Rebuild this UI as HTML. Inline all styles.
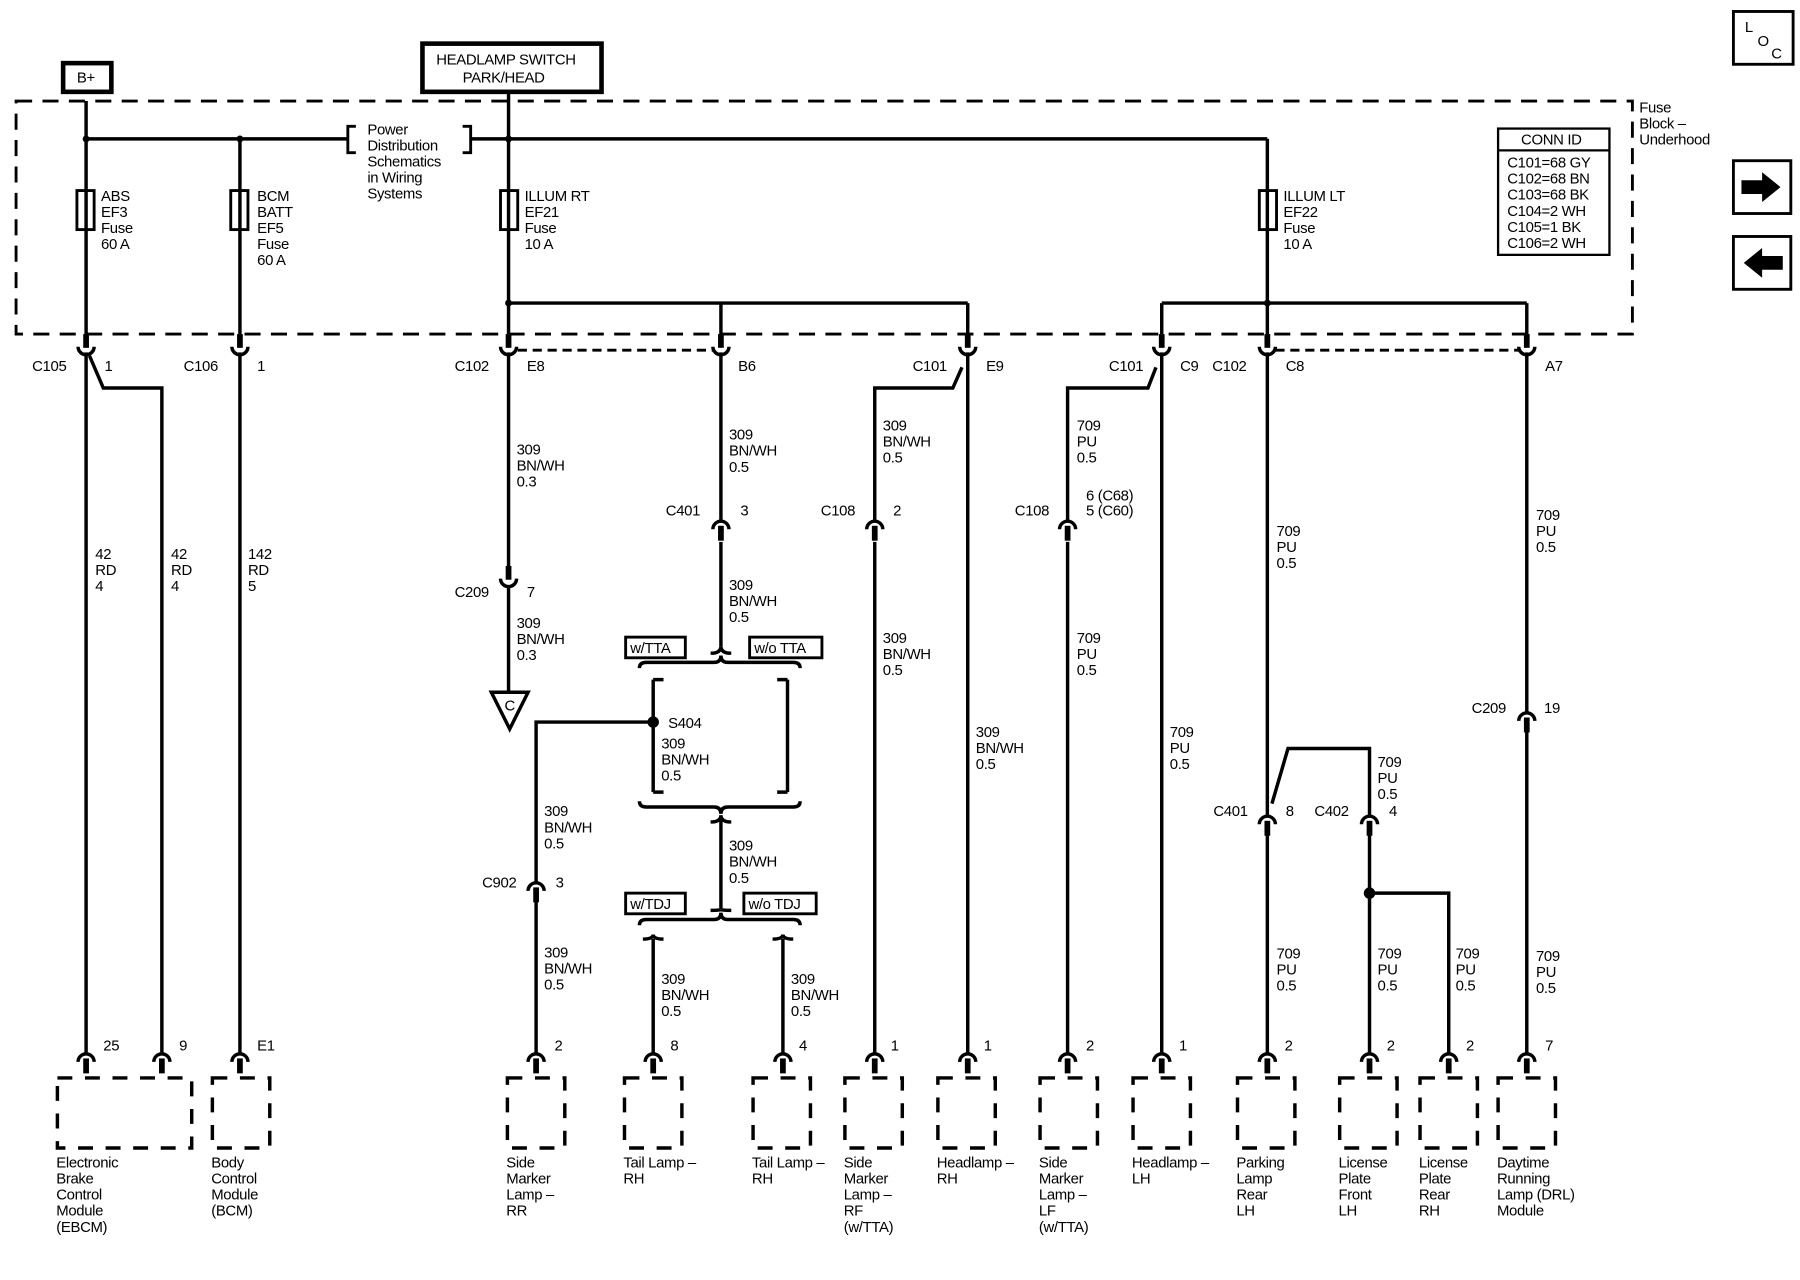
<!DOCTYPE html>
<html><head><meta charset="utf-8"><style>
html,body{margin:0;padding:0;background:#fff;}
svg{display:block;}
text{font-family:"Liberation Sans",sans-serif;font-size:13px;fill:#000;letter-spacing:-0.3px;}
</style></head><body>
<svg width="1800" height="1280" viewBox="0 0 1568 1115" preserveAspectRatio="none" xmlns="http://www.w3.org/2000/svg">
<defs>
<g id="cd"><rect x="-2.5" y="-12" width="5" height="12"/><path d="M-7,-1 A7,7 0 0 0 7,-1" fill="none" stroke="#000" stroke-width="3"/></g>
<g id="cu"><path d="M-7,7 A7,7 0 0 1 7,7" fill="none" stroke="#000" stroke-width="3"/><rect x="-2.5" y="4" width="5" height="13"/></g>
</defs>
<rect width="1568" height="1115" fill="#fff"/>
<g fill="none" stroke="#000">
<rect x="14" y="88" width="1408" height="203" stroke-width="2.5" stroke-dasharray="14 9"/>
<rect x="55" y="55" width="42" height="25" stroke-width="4"/>
<rect x="368" y="38" width="156" height="42" stroke-width="4"/>
<rect x="1305" y="112" width="97" height="110" stroke-width="2"/>
<line x1="1305" y1="131" x2="1402" y2="131" stroke-width="2"/>
<rect x="1510" y="10" width="52" height="46" stroke-width="2.5"/>
<rect x="1510" y="140" width="50" height="46" stroke-width="2.5"/>
<rect x="1510" y="206" width="50" height="46" stroke-width="2.5"/>
<g stroke-width="3">
<path d="M75,121 H303 M410,121 H1104"/>
<path d="M310,110 h-7 v23 h7 M403,110 h7 v23 h-7" stroke-width="2.5"/>
<path d="M75,88 V291 M209,121 V291 M443,80 V291 M1104,121 V291"/>
<path d="M443,264 H843 M628,264 V291 M843,264 V291 M1012,264 H1330 M1012,264 V291 M1330,264 V291"/>
</g>
<g stroke-width="2.5">
<rect x="67" y="166" width="15" height="34"/><rect x="201" y="166" width="15" height="34"/>
<rect x="436" y="166" width="15" height="34"/><rect x="1097" y="166" width="15" height="34"/>
</g>
<path d="M451,305 H622 M1111,305 H1323" stroke-width="2.5" stroke-dasharray="8 5"/>
<g stroke-width="3">
<path d="M75,307 V918 M78,310 L90,338 H141 V918"/>
<path d="M209,307 V918"/>
<path d="M443,307 V497 M443,511 V603"/>
<path d="M628,307 V455 M628,472 V563"/>
<path d="M843,307 V918 M838,320 L830,338 H762 V455 M762,472 V918"/>
<path d="M1012,307 V918 M1007,320 L1000,338 H930 V455 M930,472 V918"/>
<path d="M1104,307 V710 M1108,700 L1122,652 H1193 V710 M1104,727 V918 M1193,727 V918 M1193,778 H1262 V918"/>
<path d="M1330,307 V620 M1330,637 V918"/>
<path d="M569,592 V690 M686,592 V690 M578,592 h-9 M578,690 h-9 M677,592 h9 M677,690 h9"/>
<path d="M569,629 H467 V768 M467,785 V918"/>
<path d="M557,582 q0,-5 6,-5 L622,577 q6,0 6,-6 q0,6 6,6 L691,577 q6,0 6,5"/>
<path d="M619,569 q9,0 9,-6 q0,6 9,6"/>
<path d="M557,698 q0,5 6,5 L622,703 q6,0 6,6 q0,-6 6,-6 L691,703 q6,0 6,-5"/>
<path d="M619,716 q9,0 9,-6 q0,6 9,6 M628,712 V792"/>
<path d="M619,793 q9,0 9,-1 q0,1 9,1"/>
<path d="M557,806 q0,-5 6,-5 L622,801 q6,0 6,-6 q0,6 6,6 L691,801 q6,0 6,5"/>
<path d="M560,818 q9,0 9,-4 q0,4 9,4 M569,818 V918 M673,818 q9,0 9,-4 q0,4 9,4 M682,818 V918"/>
</g>
<polygon points="428,603 460,603 444,635" stroke-width="3"/>
<g stroke-width="3" stroke-dasharray="13 11">
<rect x="50" y="939" width="117" height="61"/><rect x="185" y="939" width="50" height="61"/>
<rect x="442" y="939" width="50" height="61"/><rect x="544" y="939" width="50" height="61"/>
<rect x="656" y="939" width="50" height="61"/><rect x="736" y="939" width="50" height="61"/>
<rect x="817" y="939" width="50" height="61"/><rect x="906" y="939" width="50" height="61"/>
<rect x="987" y="939" width="50" height="61"/><rect x="1078" y="939" width="50" height="61"/>
<rect x="1167" y="939" width="50" height="61"/><rect x="1237" y="939" width="50" height="61"/>
<rect x="1305" y="939" width="50" height="61"/>
</g>
<g stroke-width="2.5">
<rect x="545" y="555" width="52" height="18"/><rect x="653" y="555" width="63" height="18"/>
<rect x="545" y="778" width="52" height="18"/><rect x="648" y="778" width="63" height="18"/>
</g>
</g>
<g fill="#000">
<circle cx="75" cy="121" r="3"/><circle cx="209" cy="121" r="3"/><circle cx="443" cy="121" r="3"/>
<circle cx="443" cy="264" r="3"/><circle cx="1104" cy="264" r="3"/>
<circle cx="569" cy="629" r="5"/><circle cx="1193" cy="778" r="5"/>
<polygon points="1517,157 1535,157 1535,150 1551,163 1535,176 1535,169 1517,169"/>
<polygon points="1553,223 1535,223 1535,216 1519,229 1535,242 1535,235 1553,235"/>
</g>
<g>
<use href="#cd" x="75" y="303"/><use href="#cd" x="209" y="303"/><use href="#cd" x="443" y="303"/>
<use href="#cd" x="628" y="303"/><use href="#cd" x="843" y="303"/><use href="#cd" x="1012" y="303"/>
<use href="#cd" x="1104" y="303"/><use href="#cd" x="1330" y="303"/>
<use href="#cd" x="443" y="505"/>
<use href="#cu" x="628" y="454"/><use href="#cu" x="762" y="454"/><use href="#cu" x="930" y="454"/>
<use href="#cu" x="1330" y="621"/><use href="#cu" x="1104" y="711"/><use href="#cu" x="1193" y="711"/>
<use href="#cu" x="467" y="769"/>
<use href="#cu" x="75" y="918"/><use href="#cu" x="141" y="918"/><use href="#cu" x="209" y="918"/>
<use href="#cu" x="467" y="918"/><use href="#cu" x="569" y="918"/><use href="#cu" x="682" y="918"/>
<use href="#cu" x="762" y="918"/><use href="#cu" x="843" y="918"/><use href="#cu" x="930" y="918"/>
<use href="#cu" x="1012" y="918"/><use href="#cu" x="1104" y="918"/><use href="#cu" x="1193" y="918"/>
<use href="#cu" x="1262" y="918"/><use href="#cu" x="1330" y="918"/>
</g>
<g>
<text x="67" y="72">B+</text>
<text x="380" y="56">HEADLAMP SWITCH</text><text x="403" y="72">PARK/HEAD</text>
<text x="444" y="619" font-size="12" text-anchor="middle">C</text>
<text x="1325" y="126">CONN ID</text>
<text x="1313" y="146">C101=68 GY</text><text x="1313" y="160">C102=68 BN</text><text x="1313" y="174">C103=68 BK</text>
<text x="1313" y="188">C104=2 WH</text><text x="1313" y="202">C105=1 BK</text><text x="1313" y="216">C106=2 WH</text>
<text x="1520" y="28">L</text><text x="1531" y="40">O</text><text x="1543" y="51">C</text>
<text x="1428" y="98">Fuse</text><text x="1428" y="112">Block –</text><text x="1428" y="126">Underhood</text>
<text x="320" y="117">Power</text><text x="320" y="131">Distribution</text><text x="320" y="145">Schematics</text><text x="320" y="159">in Wiring</text><text x="320" y="173">Systems</text>
<text x="88" y="175">ABS</text><text x="88" y="189">EF3</text><text x="88" y="203">Fuse</text><text x="88" y="217">60 A</text>
<text x="224" y="175">BCM</text><text x="224" y="189">BATT</text><text x="224" y="203">EF5</text><text x="224" y="217">Fuse</text><text x="224" y="231">60 A</text>
<text x="457" y="175">ILLUM RT</text><text x="457" y="189">EF21</text><text x="457" y="203">Fuse</text><text x="457" y="217">10 A</text>
<text x="1118" y="175">ILLUM LT</text><text x="1118" y="189">EF22</text><text x="1118" y="203">Fuse</text><text x="1118" y="217">10 A</text>
<text x="28" y="323">C105</text><text x="91" y="323">1</text>
<text x="160" y="323">C106</text><text x="224" y="323">1</text>
<text x="396" y="323">C102</text><text x="459" y="323">E8</text><text x="643" y="323">B6</text>
<text x="795" y="323">C101</text><text x="859" y="323">E9</text>
<text x="966" y="323">C101</text><text x="1028" y="323">C9</text>
<text x="1056" y="323">C102</text><text x="1120" y="323">C8</text><text x="1346" y="323">A7</text>
<text x="83" y="487">42</text><text x="83" y="501">RD</text><text x="83" y="515">4</text>
<text x="149" y="487">42</text><text x="149" y="501">RD</text><text x="149" y="515">4</text>
<text x="216" y="487">142</text><text x="216" y="501">RD</text><text x="216" y="515">5</text>
<text x="450" y="396">309</text><text x="450" y="410">BN/WH</text><text x="450" y="424">0.3</text>
<text x="635" y="383">309</text><text x="635" y="397">BN/WH</text><text x="635" y="411">0.5</text>
<text x="769" y="375">309</text><text x="769" y="389">BN/WH</text><text x="769" y="403">0.5</text>
<text x="938" y="375">709</text><text x="938" y="389">PU</text><text x="938" y="403">0.5</text>
<text x="580" y="449">C401</text><text x="645" y="449">3</text>
<text x="715" y="449">C108</text><text x="778" y="449">2</text>
<text x="884" y="449">C108</text><text x="946" y="436">6 (C68)</text><text x="946" y="449">5 (C60)</text>
<text x="1112" y="467">709</text><text x="1112" y="481">PU</text><text x="1112" y="495">0.5</text>
<text x="1338" y="453">709</text><text x="1338" y="467">PU</text><text x="1338" y="481">0.5</text>
<text x="396" y="520">C209</text><text x="459" y="520">7</text>
<text x="450" y="547">309</text><text x="450" y="561">BN/WH</text><text x="450" y="575">0.3</text>
<text x="635" y="514">309</text><text x="635" y="528">BN/WH</text><text x="635" y="542">0.5</text>
<text x="549" y="569">w/TTA</text><text x="657" y="569">w/o TTA</text>
<text x="769" y="560">309</text><text x="769" y="574">BN/WH</text><text x="769" y="588">0.5</text>
<text x="938" y="560">709</text><text x="938" y="574">PU</text><text x="938" y="588">0.5</text>
<text x="582" y="634">S404</text>
<text x="576" y="652">309</text><text x="576" y="666">BN/WH</text><text x="576" y="680">0.5</text>
<text x="850" y="642">309</text><text x="850" y="656">BN/WH</text><text x="850" y="670">0.5</text>
<text x="1019" y="642">709</text><text x="1019" y="656">PU</text><text x="1019" y="670">0.5</text>
<text x="1282" y="621">C209</text><text x="1345" y="621">19</text>
<text x="1200" y="668">709</text><text x="1200" y="682">PU</text><text x="1200" y="696">0.5</text>
<text x="1057" y="711">C401</text><text x="1120" y="711">8</text>
<text x="1145" y="711">C402</text><text x="1210" y="711">4</text>
<text x="474" y="711">309</text><text x="474" y="725">BN/WH</text><text x="474" y="739">0.5</text>
<text x="635" y="741">309</text><text x="635" y="755">BN/WH</text><text x="635" y="769">0.5</text>
<text x="420" y="773">C902</text><text x="484" y="773">3</text>
<text x="549" y="792">w/TDJ</text><text x="652" y="792">w/o TDJ</text>
<text x="474" y="834">309</text><text x="474" y="848">BN/WH</text><text x="474" y="862">0.5</text>
<text x="576" y="857">309</text><text x="576" y="871">BN/WH</text><text x="576" y="885">0.5</text>
<text x="689" y="857">309</text><text x="689" y="871">BN/WH</text><text x="689" y="885">0.5</text>
<text x="1112" y="835">709</text><text x="1112" y="849">PU</text><text x="1112" y="863">0.5</text>
<text x="1200" y="835">709</text><text x="1200" y="849">PU</text><text x="1200" y="863">0.5</text>
<text x="1268" y="835">709</text><text x="1268" y="849">PU</text><text x="1268" y="863">0.5</text>
<text x="1338" y="837">709</text><text x="1338" y="851">PU</text><text x="1338" y="865">0.5</text>
<text x="90" y="915">25</text><text x="156" y="915">9</text><text x="224" y="915">E1</text>
<text x="483" y="915">2</text><text x="584" y="915">8</text><text x="696" y="915">4</text>
<text x="776" y="915">1</text><text x="857" y="915">1</text><text x="946" y="915">2</text>
<text x="1027" y="915">1</text><text x="1119" y="915">2</text><text x="1208" y="915">2</text>
<text x="1277" y="915">2</text><text x="1346" y="915">7</text>
<text x="49" y="1017">Electronic</text><text x="49" y="1031">Brake</text><text x="49" y="1045">Control</text><text x="49" y="1059">Module</text><text x="49" y="1073">(EBCM)</text>
<text x="184" y="1017">Body</text><text x="184" y="1031">Control</text><text x="184" y="1045">Module</text><text x="184" y="1059">(BCM)</text>
<text x="441" y="1017">Side</text><text x="441" y="1031">Marker</text><text x="441" y="1045">Lamp –</text><text x="441" y="1059">RR</text>
<text x="543" y="1017">Tail Lamp –</text><text x="543" y="1031">RH</text>
<text x="655" y="1017">Tail Lamp –</text><text x="655" y="1031">RH</text>
<text x="735" y="1017">Side</text><text x="735" y="1031">Marker</text><text x="735" y="1045">Lamp –</text><text x="735" y="1059">RF</text><text x="735" y="1073">(w/TTA)</text>
<text x="816" y="1017">Headlamp –</text><text x="816" y="1031">RH</text>
<text x="905" y="1017">Side</text><text x="905" y="1031">Marker</text><text x="905" y="1045">Lamp –</text><text x="905" y="1059">LF</text><text x="905" y="1073">(w/TTA)</text>
<text x="986" y="1017">Headlamp –</text><text x="986" y="1031">LH</text>
<text x="1077" y="1017">Parking</text><text x="1077" y="1031">Lamp</text><text x="1077" y="1045">Rear</text><text x="1077" y="1059">LH</text>
<text x="1166" y="1017">License</text><text x="1166" y="1031">Plate</text><text x="1166" y="1045">Front</text><text x="1166" y="1059">LH</text>
<text x="1236" y="1017">License</text><text x="1236" y="1031">Plate</text><text x="1236" y="1045">Rear</text><text x="1236" y="1059">RH</text>
<text x="1304" y="1017">Daytime</text><text x="1304" y="1031">Running</text><text x="1304" y="1045">Lamp (DRL)</text><text x="1304" y="1059">Module</text>
</g>
</svg>
</body></html>
